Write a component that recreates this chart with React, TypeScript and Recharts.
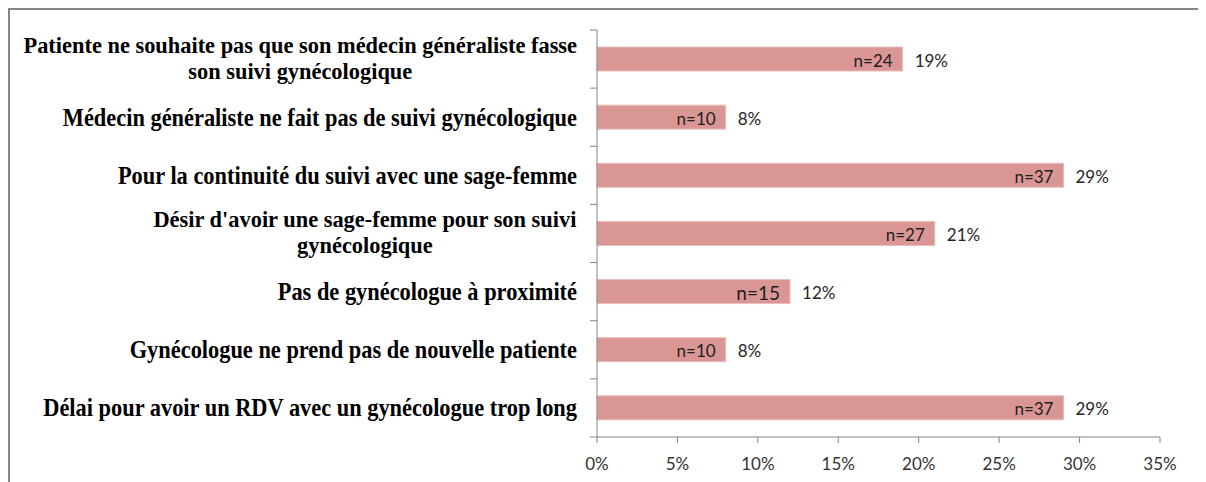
import React from 'react';
import { BarChart, Bar, XAxis, YAxis, LabelList } from 'recharts';

const categories = [
  'Patiente ne souhaite pas que son médecin généraliste fasse\nson suivi gynécologique',
  'Médecin généraliste ne fait pas de suivi gynécologique',
  'Pour la continuité du suivi avec une sage-femme',
  "Désir d'avoir une sage-femme pour son suivi\ngynécologique",
  'Pas de gynécologue à proximité',
  'Gynécologue ne prend pas de nouvelle patiente',
  'Délai pour avoir un RDV avec un gynécologue trop long',
];
const percentValues = [19, 8, 29, 21, 12, 8, 29];
const countValues = [24, 10, 37, 27, 15, 10, 37];
const xTicks = [0, 5, 10, 15, 20, 25, 30, 35];

const data = categories.map((c, i) => ({ category: c, pct: percentValues[i], n: countValues[i] }));

const CHART_W = 1189;
const CHART_H = 472;
const MARGIN = { top: 20, right: 39, bottom: 15, left: 10 };
const Y_AXIS_W = 577;
const X_AXIS_H = 30;
const PLOT_LEFT = MARGIN.left + Y_AXIS_W;
const PLOT_H = CHART_H - MARGIN.top - MARGIN.bottom - X_AXIS_H;
const BAND = PLOT_H / categories.length;
const LABEL_RIGHT = PLOT_LEFT - 20;
const AXIS_COLOR = '#868686';
const BAR_FILL = '#D99694';
const BAR_STROKE = '#E8BCBB';
const SERIF = '"Liberation Serif", "Times New Roman", serif';
const SANS = 'Lato, "Open Sans", sans-serif';
const Y_FONT = 22.4;
const Y_STRETCH = 1.08;
const LINE_GAP = 26;
const EMPHASIZED = 4;
const LABEL_FONT = 17;

let canvasCtx: CanvasRenderingContext2D | null = null;
function measure(text: string, font: string): number {
  if (!canvasCtx) {
    const c = document.createElement('canvas');
    canvasCtx = c.getContext('2d');
  }
  if (!canvasCtx) return text.length * 10;
  canvasCtx.font = font;
  return canvasCtx.measureText(text).width;
}

const StretchedText = ({ x, y, anchor, font, stretch, children }: any) => (
  <g transform={`translate(${x},${y}) scale(1,${stretch})`}>
    <text x={0} y={0} textAnchor={anchor} dominantBaseline="central" style={{ font, fill: '#000' }}>
      {children}
    </text>
  </g>
);

const CategoryTick = (props: any) => {
  const { y, payload, index } = props;
  const lines: string[] = String(payload.value).split('\n');
  const font = `bold ${Y_FONT}px ${SERIF}`;
  const top = y - BAND / 2;
  const last = index === categories.length - 1;
  const tickEls = (
    <>
      <line x1={PLOT_LEFT - 7} x2={PLOT_LEFT} y1={top} y2={top} stroke={AXIS_COLOR} strokeWidth={1} />
      {last && (
        <line x1={PLOT_LEFT - 7} x2={PLOT_LEFT} y1={top + BAND} y2={top + BAND} stroke={AXIS_COLOR} strokeWidth={1} />
      )}
    </>
  );
  if (lines.length === 1) {
    return (
      <g>
        {tickEls}
        <StretchedText x={LABEL_RIGHT} y={y} anchor="end" font={font} stretch={Y_STRETCH}>{lines[0]}</StretchedText>
      </g>
    );
  }
  const w1 = measure(lines[0], font);
  const cx = LABEL_RIGHT - w1 / 2;
  const start = y - 1 - ((lines.length - 1) * LINE_GAP) / 2;
  return (
    <g>
      {tickEls}
      {lines.map((l, i) => (
        <StretchedText key={i} x={cx} y={start + i * LINE_GAP} anchor="middle" font={font} stretch={1}>{l}</StretchedText>
      ))}
    </g>
  );
};

const CountLabel = (props: any) => {
  const { x, y, width, height, value, index } = props;
  const big = index === EMPHASIZED;
  return (
    <text x={x + width - 10} y={y + height / 2 + 1} textAnchor="end" dominantBaseline="central"
      style={{ fontFamily: SANS, fontSize: big ? 19 : LABEL_FONT, fill: '#1e1e1e' }}>
      {`n=${value}`}
    </text>
  );
};

const PctLabel = (props: any) => {
  const { x, y, width, height, value } = props;
  return (
    <text x={x + width + 12} y={y + height / 2 + 1} textAnchor="start" dominantBaseline="central"
      style={{ fontFamily: SANS, fontSize: LABEL_FONT, fill: '#262626' }}>
      {`${value}%`}
    </text>
  );
};

export default function App() {
  return (
    <div style={{ width: CHART_W, height: CHART_H, border: `2px solid ${AXIS_COLOR}`, background: '#fff' }}>
      <BarChart width={CHART_W} height={CHART_H} data={data} layout="vertical" margin={MARGIN}>
        <XAxis
          type="number"
          domain={[0, 35]}
          ticks={xTicks}
          tickFormatter={(v: number) => `${v}%`}
          height={X_AXIS_H}
          axisLine={{ stroke: AXIS_COLOR }}
          tickLine={{ stroke: AXIS_COLOR }}
          tickSize={6}
          tickMargin={15}
          tick={{ fill: '#333', fontSize: LABEL_FONT, fontFamily: SANS }}
          interval={0}
        />
        <YAxis
          type="category"
          dataKey="category"
          width={Y_AXIS_W}
          axisLine={{ stroke: AXIS_COLOR }}
          tickLine={false}
          tick={<CategoryTick />}
          interval={0}
        />
        <Bar dataKey="pct" fill={BAR_FILL} stroke={BAR_STROKE} strokeWidth={1} barSize={24} isAnimationActive={false}>
          <LabelList dataKey="n" content={<CountLabel />} />
          <LabelList dataKey="pct" content={<PctLabel />} />
        </Bar>
      </BarChart>
    </div>
  );
}
